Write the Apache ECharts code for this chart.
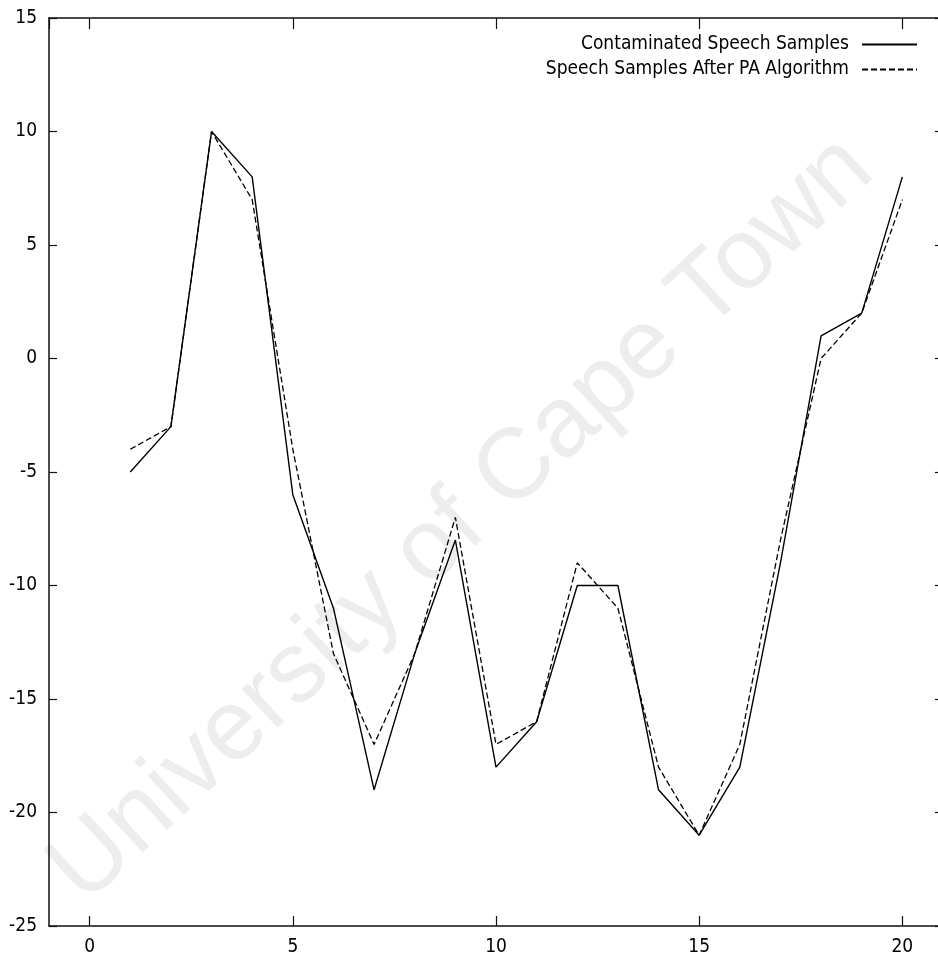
<!DOCTYPE html>
<html>
<head>
<meta charset="utf-8">
<title>Speech Samples</title>
<script src="https://cdn.jsdelivr.net/npm/echarts@6/dist/echarts.min.js"></script>
<style>
  html, body { margin: 0; padding: 0; background: #fff; overflow: hidden; }
  #chart { width: 938px; height: 973px; }
</style>
</head>
<body>
<div id="chart"></div>
<script>
// Sample index along the x axis
const sampleIndex = [1, 2, 3, 4, 5, 6, 7, 8, 9, 10, 11, 12, 13, 14, 15, 16, 17, 18, 19, 20];
// Noisy input samples
const contaminated = [-5, -3, 10, 8, -6, -11, -19, -13, -8, -18, -16, -10, -10, -19, -21, -18, -9, 1, 2, 8];
// Samples after the PA algorithm
const afterPA = [-4, -3, 10, 7, -4, -13, -17, -13, -7, -17, -16, -9, -11, -18, -21, -17, -8, 0, 2, 7];

const seriesNames = ['Contaminated Speech Samples', 'Speech Samples After PA Algorithm'];
const xRange = [-1, 21];
const yRange = [-25, 15];

const FONT = '"DejaVu Sans Condensed", "Liberation Sans", sans-serif';

const pairs = (ys) => sampleIndex.map((x, i) => [x, ys[i]]);

const frameLine = { show: true, onZero: false, lineStyle: { color: '#111', width: 1.5 } };

const chart = echarts.init(document.getElementById('chart'), null, { renderer: 'canvas' });

chart.setOption({
  backgroundColor: '#fff',
  animation: false,
  grid: {
    left: 49, top: 18, width: 894, height: 908,
    containLabel: false,
    outerBoundsMode: 'none'
  },
  graphic: [{
    type: 'text',
    z: -10,
    x: 462,
    y: 520,
    rotation: 42.7 * Math.PI / 180,
    style: {
      text: 'University of Cape Town',
      font: '100px "Liberation Sans", Arial, sans-serif',
      fill: '#ededed',
      textAlign: 'center',
      textVerticalAlign: 'middle'
    }
  }],
  legend: {
    orient: 'vertical',
    right: 20,
    top: 35,
    padding: 0,
    align: 'right',
    itemWidth: 55,
    itemHeight: 14,
    itemGap: 6,
    selectedMode: false,
    itemStyle: { color: 'rgba(0,0,0,0)', borderWidth: 0 },
    textStyle: { fontFamily: FONT, fontSize: 19, color: '#000', padding: [0, 8, 0, 0] },
    data: seriesNames
  },
  xAxis: [{
    type: 'value',
    position: 'bottom',
    min: xRange[0],
    max: xRange[1],
    minInterval: 5,
    maxInterval: 5,
    splitLine: { show: false },
    axisLine: frameLine,
    axisTick: { inside: true, length: 10, lineStyle: { color: '#111', width: 1.2 } },
    axisLabel: {
      showMinLabel: false,
      showMaxLabel: false,
      margin: 12,
      fontFamily: FONT,
      fontSize: 19,
      color: '#000',
      formatter: (v) => (v % 5 === 0 ? String(v) : '')
    }
  }, {
    type: 'value',
    position: 'top',
    min: xRange[0],
    max: xRange[1],
    minInterval: 5,
    maxInterval: 5,
    splitLine: { show: false },
    axisLine: frameLine,
    axisTick: { inside: true, length: 11, lineStyle: { color: '#111', width: 1.2 } },
    axisLabel: { show: false }
  }],
  yAxis: [{
    type: 'value',
    position: 'left',
    min: yRange[0],
    max: yRange[1],
    interval: 5,
    splitLine: { show: false },
    axisLine: frameLine,
    axisTick: { inside: true, length: 8, lineStyle: { color: '#111', width: 1.2 } },
    axisLabel: { margin: 12, fontFamily: FONT, fontSize: 19, color: '#000' }
  }, {
    type: 'value',
    position: 'right',
    min: yRange[0],
    max: yRange[1],
    interval: 5,
    splitLine: { show: false },
    axisLine: { show: false, onZero: false },
    axisTick: { inside: true, length: 8, lineStyle: { color: '#111', width: 1.2 } },
    axisLabel: { show: false }
  }],
  series: [{
    name: seriesNames[0],
    type: 'line',
    xAxisIndex: 0,
    yAxisIndex: 0,
    data: pairs(contaminated),
    symbol: 'none',
    z: 3,
    color: '#000',
    lineStyle: { color: '#000', width: 1.4, type: 'solid' }
  }, {
    name: seriesNames[1],
    type: 'line',
    xAxisIndex: 0,
    yAxisIndex: 0,
    data: pairs(afterPA),
    symbol: 'none',
    z: 3,
    color: '#000',
    lineStyle: { color: '#000', width: 1.3, type: [6, 3] }
  }]
});
</script>
</body>
</html>
